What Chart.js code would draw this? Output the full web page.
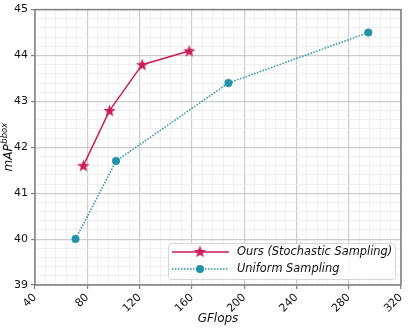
<!DOCTYPE html>
<html>
<head>
<meta charset="utf-8">
<script src="https://cdn.jsdelivr.net/npm/chart.js@4"></script>
<style>
  html, body { margin: 0; padding: 0; background: #fff; }
  #wrap { width: 416px; height: 328px; }
</style>
</head>
<body>
<div id="wrap"><canvas id="chart" width="416" height="328"></canvas></div>
<script>
// data
const oursFlops = [77, 97, 122, 158];
const oursMap = [41.6, 42.8, 43.8, 44.1];
const uniformFlops = [71, 102, 188, 295];
const uniformMap = [40.0, 41.7, 43.4, 44.5];
const seriesLabels = ["Ours (Stochastic Sampling)", "Uniform Sampling"];
const xMin = 40, xMax = 320, xMajor = 40, xMinor = 8;
const yMin = 39, yMax = 45, yMinor = 0.2;

const crimson = "#cc1d5a";
const teal = "#2394a6";
const font = "DejaVu Sans";

// filled five point star for the markers
function makeStar(size, color) {
  const c = document.createElement("canvas");
  c.width = size;
  c.height = size;
  const g = c.getContext("2d");
  const cx = size / 2, cy = size / 2 + 0.5;
  const R = size / 2, r = R * 0.42;
  g.beginPath();
  for (let i = 0; i < 10; i++) {
    const a = -Math.PI / 2 + (i * Math.PI) / 5;
    const rad = i % 2 === 0 ? R : r;
    g.lineTo(cx + rad * Math.cos(a), cy + rad * Math.sin(a));
  }
  g.closePath();
  g.fillStyle = color;
  g.fill();
  return c;
}
const starImg = makeStar(13, crimson);

function isMajor(v, step) {
  const q = v / step;
  return Math.abs(q - Math.round(q)) < 1e-6;
}

// frame + y label + legend drawn on top
const extras = {
  id: "extras",
  afterDraw(chart) {
    const ctx = chart.ctx;
    const a = chart.chartArea;
    ctx.save();
    ctx.strokeStyle = "#808080";
    ctx.lineWidth = 1.5;
    ctx.strokeRect(a.left, a.top, a.right - a.left, a.bottom - a.top);

    // y axis title with superscript
    ctx.translate(9, (a.top + a.bottom) / 2);
    ctx.rotate(-Math.PI / 2);
    ctx.fillStyle = "#111";
    ctx.textBaseline = "middle";
    ctx.font = "italic 12px '" + font + "'";
    const w1 = ctx.measureText("mAP").width;
    ctx.font = "italic 8.5px '" + font + "'";
    const w2 = ctx.measureText("bbox").width;
    const x0 = -(w1 + w2) / 2;
    ctx.font = "italic 12px '" + font + "'";
    ctx.fillText("mAP", x0, 0);
    ctx.font = "italic 8.5px '" + font + "'";
    ctx.fillText("bbox", x0 + w1 + 0.5, -4);
    ctx.restore();

    // legend box in the lower right
    ctx.save();
    const lx = 168, ly = 243, lw = 227, lh = 36;
    ctx.fillStyle = "rgba(255,255,255,0.85)";
    ctx.strokeStyle = "#d6d6d6";
    ctx.lineWidth = 1;
    ctx.beginPath();
    ctx.roundRect(lx + 0.5, ly + 0.5, lw, lh, 3);
    ctx.fill();
    ctx.stroke();
    const rows = [ly + 9, ly + 26];
    // ours
    ctx.strokeStyle = crimson;
    ctx.lineWidth = 1.5;
    ctx.beginPath();
    ctx.moveTo(172, rows[0]);
    ctx.lineTo(229, rows[0]);
    ctx.stroke();
    ctx.drawImage(starImg, 200 - 6.5, rows[0] - 7);
    // uniform
    ctx.strokeStyle = teal;
    ctx.setLineDash([1.5, 1.5]);
    ctx.beginPath();
    ctx.moveTo(172, rows[1]);
    ctx.lineTo(229, rows[1]);
    ctx.stroke();
    ctx.setLineDash([]);
    ctx.fillStyle = teal;
    ctx.beginPath();
    ctx.arc(200, rows[1], 4, 0, Math.PI * 2);
    ctx.fill();
    ctx.fillStyle = "#111";
    ctx.font = "italic 11.4px '" + font + "'";
    ctx.textBaseline = "middle";
    ctx.fillText(seriesLabels[0], 237, rows[0]);
    ctx.fillText(seriesLabels[1], 237, rows[1]);
    ctx.restore();
  }
};

const ctx = document.getElementById("chart").getContext("2d");
new Chart(ctx, {
  type: "line",
  data: {
    datasets: [
      {
        label: seriesLabels[0],
        data: oursFlops.map((x, i) => ({ x: x, y: oursMap[i] })),
        borderColor: crimson,
        backgroundColor: crimson,
        borderWidth: 1.5,
        pointStyle: starImg,
        pointRadius: 6,
        tension: 0,
      },
      {
        label: seriesLabels[1],
        data: uniformFlops.map((x, i) => ({ x: x, y: uniformMap[i] })),
        borderColor: teal,
        backgroundColor: teal,
        borderWidth: 1.5,
        borderDash: [1.5, 1.5],
        pointStyle: "circle",
        pointRadius: 4,
        pointBorderWidth: 0,
        tension: 0,
      },
    ],
  },
  options: {
    responsive: false,
    animation: false,
    layout: { padding: { top: 8, right: 15, left: 0, bottom: 0 } },
    plugins: { legend: { display: false }, tooltip: { enabled: false } },
    scales: {
      x: {
        type: "linear",
        min: xMin,
        max: xMax,
        afterFit(s) { s.height = 43; },
        afterBuildTicks(s) {
          const t = [];
          for (let v = xMin; v <= xMax + 1e-9; v += xMinor) t.push({ value: v });
          s.ticks = t;
        },
        ticks: {
          autoSkip: false,
          minRotation: 45,
          maxRotation: 45,
          color: "#111",
          font: { family: font, size: 11 },
          padding: 2,
          callback: (v) => (isMajor(v, xMajor) ? String(v) : ""),
        },
        grid: {
          color: (c) => (c.tick && isMajor(c.tick.value, xMajor) ? "#cccccc" : "#ececec"),
          lineWidth: (c) => (c.tick && isMajor(c.tick.value, xMajor) ? 1.2 : 0.8),
          tickLength: 4,
          tickColor: (c) => (c.tick && isMajor(c.tick.value, xMajor) ? "#808080" : "rgba(0,0,0,0)"),
        },
        border: { display: false },
        title: {
          display: true,
          text: "GFlops",
          color: "#111",
          font: { family: font, size: 12, style: "italic" },
          padding: { top: 0, bottom: 2 },
        },
      },
      y: {
        type: "linear",
        min: yMin,
        max: yMax,
        afterFit(s) { s.width = 35; },
        afterBuildTicks(s) {
          const t = [];
          for (let i = 0; i <= Math.round((yMax - yMin) / yMinor); i++) {
            t.push({ value: +(yMin + i * yMinor).toFixed(2) });
          }
          s.ticks = t;
        },
        ticks: {
          autoSkip: false,
          color: "#111",
          font: { family: font, size: 11 },
          padding: 3,
          callback: (v) => (isMajor(v, 1) ? String(v) : ""),
        },
        grid: {
          color: (c) => (c.tick && isMajor(c.tick.value, 1) ? "#cccccc" : "#ececec"),
          lineWidth: (c) => (c.tick && isMajor(c.tick.value, 1) ? 1.2 : 0.8),
          tickLength: 4,
          tickColor: (c) => (c.tick && isMajor(c.tick.value, 1) ? "#808080" : "rgba(0,0,0,0)"),
        },
        border: { display: false },
      },
    },
  },
  plugins: [extras],
});
</script>
</body>
</html>
